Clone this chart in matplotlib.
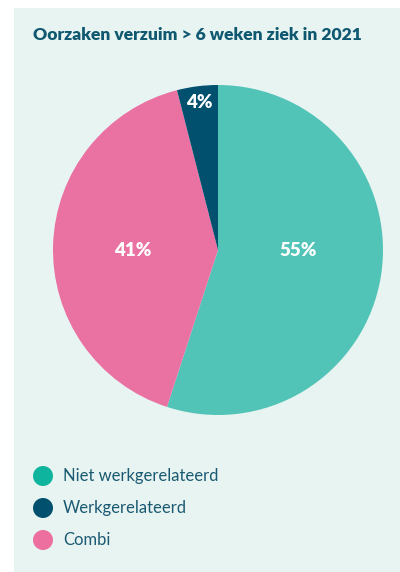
import numpy as np
import matplotlib
matplotlib.use("Agg")
import matplotlib.pyplot as plt
from matplotlib.patches import Rectangle, Ellipse

plt.rcParams['font.family'] = ['Lato', 'DejaVu Sans']

# data
labels = ["Niet werkgerelateerd", "Werkgerelateerd", "Combi"]
values = [55, 4, 41]
pie_order = [0, 2, 1]  # clockwise from top: teal, pink, dark
pie_colors = ["#52C4B7", "#00506E", "#E972A3"]
legend_colors = ["#0FB49E", "#00506E", "#EC6FA0"]
title = "Oorzaken verzuim > 6 weken ziek in 2021"

# label placement (radius, angle in deg) per slice
lab_r = [0.485, 0.9, 0.515]
lab_ang = [0, None, 180]

W, H = 400, 572
fig = plt.figure(figsize=(W / 100, H / 100), dpi=100)
fig.patch.set_facecolor("white")

# panel background
fig.patches.append(Rectangle((14 / W, 0), (W - 14) / W, (H - 8) / H,
                             transform=fig.transFigure, facecolor="#E8F4F2",
                             edgecolor="none", zorder=-10))

fig.text(33 / W, 1 - 35 / H, title, fontsize=12.6, fontweight="heavy",
         color="#0F5870", va="center", ha="left")

ax = fig.add_axes([53 / W, (H - 415) / H, 330 / W, 330 / H])
ax.patch.set_visible(False)
ax.set_zorder(5)
vals = [values[i] for i in pie_order]
cols = [pie_colors[i] for i in pie_order]
wedges, _ = ax.pie(vals, colors=cols, startangle=90, counterclock=False,
                   radius=1, wedgeprops=dict(linewidth=0))
for w, i in zip(wedges, pie_order):
    a = lab_ang[i]
    if a is None:
        a = (w.theta1 + w.theta2) / 2
    a = np.deg2rad(a)
    d = lab_r[i]
    ax.text(d * np.cos(a), d * np.sin(a), "%d%%" % values[i],
            color="white", fontsize=13.5, fontweight="heavy",
            ha="center", va="center")
ax.set_xlim(-1, 1)
ax.set_ylim(-1, 1)
ax.set_aspect("equal")
ax.axis("off")

# legend
for k, (lab, c) in enumerate(zip(labels, legend_colors)):
    y = 476 + 32 * k
    fig.patches.append(Ellipse((43 / W, 1 - y / H), 20 / W, 20 / H,
                               transform=fig.transFigure,
                               facecolor=c, edgecolor="none"))
    fig.text(63 / W, 1 - y / H, lab, fontsize=12, color="#1A5A72",
             va="center", ha="left")

fig.savefig("out.png", dpi=100)
